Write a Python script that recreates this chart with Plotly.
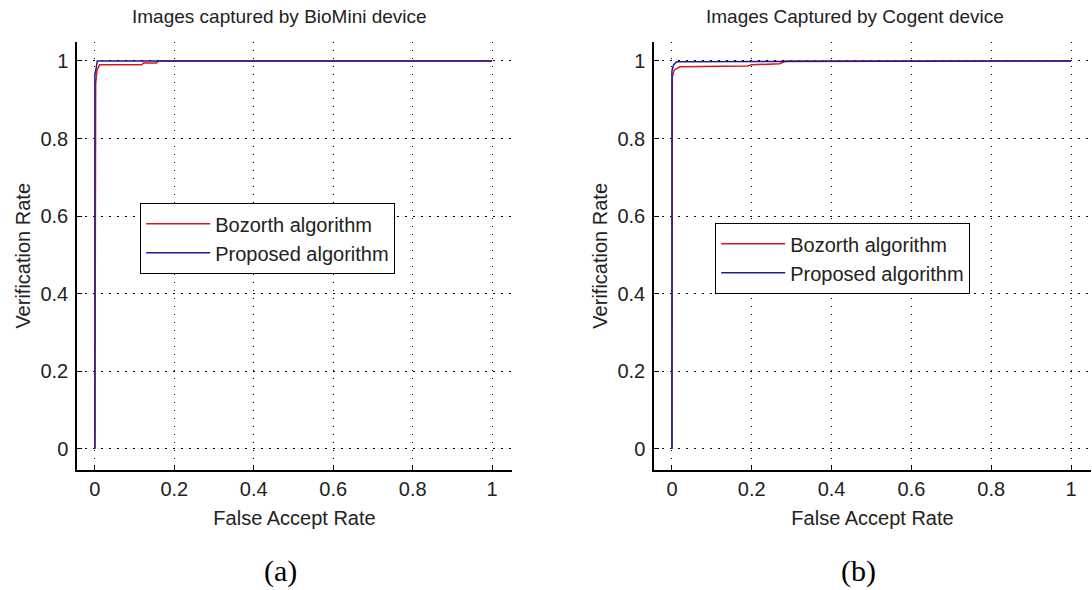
import plotly.graph_objects as go

# ROC-style curves: verification rate vs. false accept rate
far_bozorth_a = [0.0, 0.002, 0.005, 0.012, 0.118, 0.122, 0.155, 0.16, 1.0]
vr_bozorth_a = [0.0, 0.94, 0.975, 0.99, 0.99, 0.995, 0.995, 1.0, 1.0]
far_proposed_a = [0.0, 0.0, 0.003, 0.006, 1.0]
vr_proposed_a = [0.0, 0.965, 0.98, 1.0, 1.0]

far_bozorth_b = [0.0, 0.001, 0.006, 0.02, 0.19, 0.2, 0.27, 0.285, 1.0]
vr_bozorth_b = [0.0, 0.96, 0.977, 0.985, 0.987, 0.99, 0.993, 1.0, 1.0]
far_proposed_b = [0.0, 0.0, 0.004, 0.012, 1.0]
vr_proposed_b = [0.0, 0.975, 0.99, 0.998, 1.0]

titles = ["Images captured by BioMini device", "Images Captured by Cogent device"]
captions = ["(a)", "(b)"]
series_names = ["Bozorth algorithm", "Proposed algorithm"]
tick_vals = [0, 0.2, 0.4, 0.6, 0.8, 1]
tick_text = ["0", "0.2", "0.4", "0.6", "0.8", "1"]

RED = "#d81818"
BLUE = "#1c1c96"
FONT = "Liberation Sans, Arial, sans-serif"
TXT = "#222222"

fig = go.Figure()

panels = [
    (far_bozorth_a, vr_bozorth_a, far_proposed_a, vr_proposed_a, "x", "y", "legend"),
    (far_bozorth_b, vr_bozorth_b, far_proposed_b, vr_proposed_b, "x2", "y2", "legend2"),
]
for fb, vb, fp, vp, xa, ya, lg in panels:
    fig.add_trace(go.Scatter(x=fb, y=vb, mode="lines", name=series_names[0],
                             line=dict(color=RED, width=1.5), xaxis=xa, yaxis=ya,
                             legend=lg))
    fig.add_trace(go.Scatter(x=fp, y=vp, mode="lines", name=series_names[1],
                             line=dict(color=BLUE, width=1.5), xaxis=xa, yaxis=ya,
                             legend=lg))

W, H = 1092, 590
x_domains = [[77 / W, 512 / W], [654 / W, 1091 / W]]
y_domain = [(H - 470) / H, (H - 41.6) / H]

axis_common = dict(
    showline=True, linecolor="black", linewidth=1.5, mirror=False,
    ticks="inside", ticklen=5, tickcolor="black", tickwidth=1,
    showgrid=True, gridcolor="black", gridwidth=1, griddash="1.5px,6.5px",
    zeroline=False, tickvals=tick_vals, ticktext=tick_text,
    tickfont=dict(family=FONT, size=20, color=TXT),
)

layout = dict(
    width=W, height=H,
    margin=dict(l=0, r=0, t=0, b=0),
    paper_bgcolor="white", plot_bgcolor="white",
    font=dict(family=FONT, size=20, color=TXT),
)
for i, (xa, ya) in enumerate([("xaxis", "yaxis"), ("xaxis2", "yaxis2")]):
    layout[xa] = dict(axis_common, domain=x_domains[i], range=[-0.045, 1.05],
                      anchor="y" if i == 0 else "y2",
                      title=dict(text="False Accept Rate", standoff=12,
                                 font=dict(family=FONT, size=20, color=TXT)))
    layout[ya] = dict(axis_common, domain=y_domain, range=[-0.055, 1.05],
                      anchor="x" if i == 0 else "x2",
                      ticklabelstandoff=3,
                      title=dict(text="Verification Rate", standoff=4,
                                 font=dict(family=FONT, size=20, color=TXT)))

legend_common = dict(
    bgcolor="white", bordercolor="black", borderwidth=1.2,
    font=dict(family=FONT, size=20, color=TXT),
    xanchor="left", yanchor="top", itemwidth=64, tracegroupgap=0,
    entrywidth=186,
)
layout["legend"] = dict(legend_common, x=140 / W, y=(H - 203) / H)
layout["legend2"] = dict(legend_common, x=715 / W, y=(H - 223) / H)
fig.update_layout(**layout)

for i in range(2):
    fig.add_annotation(text=titles[i], x=[279 / W, 855 / W][i], y=(H - 17) / H,
                       xref="paper", yref="paper", showarrow=False,
                       xanchor="center", yanchor="middle",
                       font=dict(family=FONT, size=19, color=TXT))
    fig.add_annotation(text=captions[i], x=[280 / W, 858 / W][i], y=(H - 571) / H,
                       xref="paper", yref="paper", showarrow=False,
                       xanchor="center", yanchor="middle",
                       font=dict(family="Liberation Serif, serif", size=30, color="black"))

fig.write_html("out.html")
